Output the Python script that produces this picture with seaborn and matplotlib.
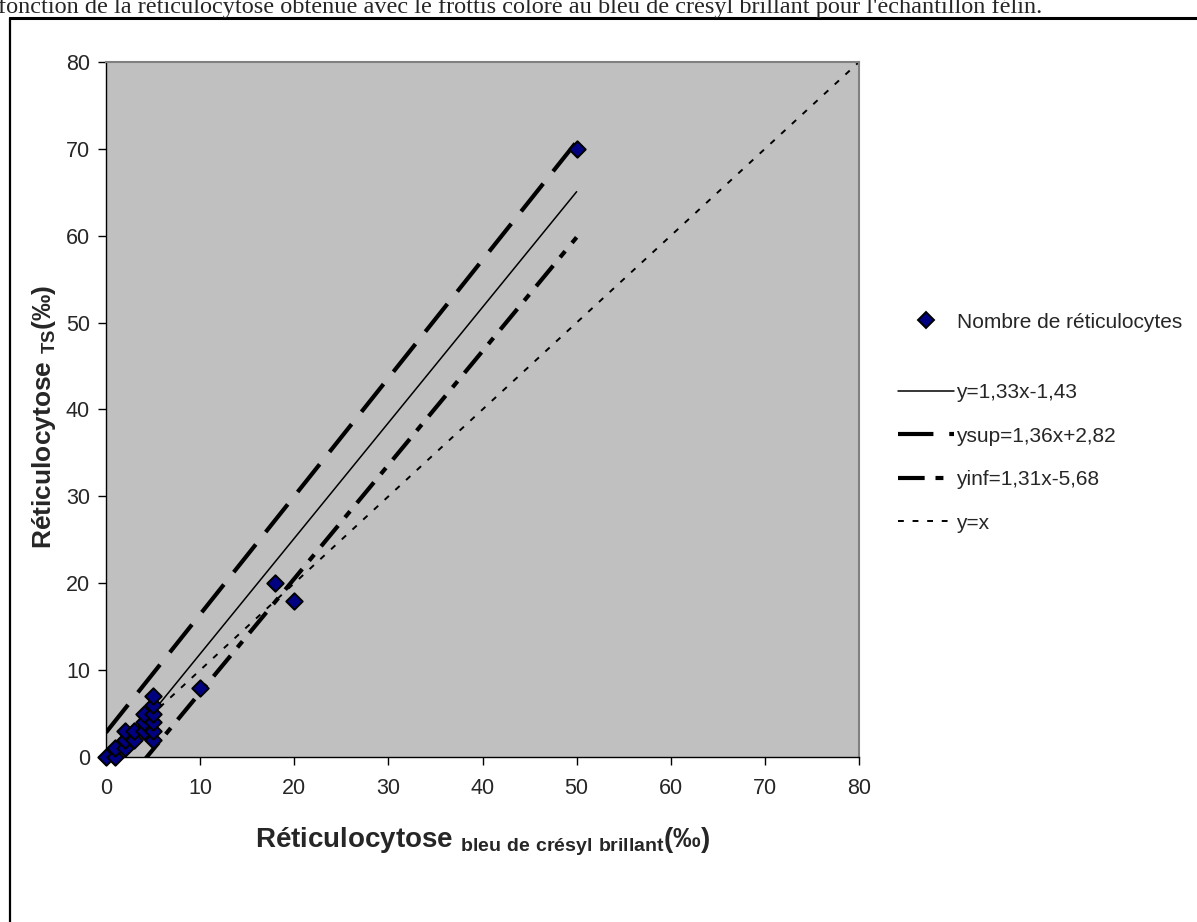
import matplotlib
matplotlib.use("Agg")
import matplotlib.pyplot as plt
from matplotlib.lines import Line2D
import numpy as np
import pandas as pd
import seaborn as sns

# Reticulocyte counts (per mille): brilliant cresyl blue smear vs. TS method
x_bcb = [0, 1, 1, 2, 2, 2, 3, 3, 4, 4, 4, 5, 5, 5, 5, 5, 5, 10, 18, 20, 50]
y_ts = [0, 0, 1, 1, 2, 3, 2, 3, 3, 4, 5, 2, 3, 4, 5, 6, 7, 8, 20, 18, 70]

# Regression line and its confidence bounds (slope, intercept)
reg_slope, reg_intercept = 1.33, -1.43
sup_slope, sup_intercept = 1.36, 2.82
inf_slope, inf_intercept = 1.31, -5.68
fit_range = [0, 50]
identity_range = [0, 80]

labels = ["Nombre de réticulocytes", "y=1,33x-1,43", "ysup=1,36x+2,82",
          "yinf=1,31x-5,68", "y=x"]
ticks = [0, 10, 20, 30, 40, 50, 60, 70, 80]

sns.set_style("white")
plt.rcParams["font.family"] = ["Liberation Sans", "DejaVu Sans"]
plt.rcParams["mathtext.fontset"] = "custom"
plt.rcParams["mathtext.rm"] = "Liberation Sans"
plt.rcParams["mathtext.bf"] = "Liberation Sans:bold"

W, H = 1197, 922
fig = plt.figure(figsize=(W / 100, H / 100), dpi=100)
ax = fig.add_axes([106 / W, 1 - 757 / H, (859 - 106) / W, (757 - 62) / H])
ax.set_facecolor("#C0C0C0")

pts = pd.DataFrame({"bcb": x_bcb, "ts": y_ts})
xs = np.array(fit_range, dtype=float)
lines = pd.DataFrame({
    "x": xs,
    "reg": reg_slope * xs + reg_intercept,
    "sup": sup_slope * xs + sup_intercept,
    "inf": inf_slope * xs + inf_intercept,
})
ident = pd.DataFrame({"x": identity_range, "y": identity_range})

styles = {
    "reg": dict(lw=1.1, dashes=None),
    "sup": dict(lw=3.0, dashes=(8.5, 3.8)),
    "inf": dict(lw=3.0, dashes=(6.4, 2.6, 1.9, 2.6)),
}
for col, st in styles.items():
    sns.lineplot(data=lines, x="x", y=col, ax=ax, color="black",
                 lw=st["lw"], estimator=None)
    ln = ax.lines[-1]
    if st["dashes"]:
        ln.set_dashes(st["dashes"])
sns.lineplot(data=ident, x="x", y="y", ax=ax, color="black", lw=1.4,
             estimator=None)
ax.lines[-1].set_dashes((3.0, 4.5))

sns.scatterplot(data=pts, x="bcb", y="ts", ax=ax, marker="D", s=70,
                color="#000080", edgecolor="black", linewidth=1.4,
                clip_on=False, zorder=5)

ax.set_xlim(0, 80)
ax.set_ylim(0, 80)
ax.set_xticks(ticks)
ax.set_yticks(ticks)
ax.tick_params(axis="both", direction="out", length=6, width=1,
               color="black", labelsize=15.5, left=True, bottom=True)
ax.tick_params(axis="y", pad=5.5)
ax.tick_params(axis="x", pad=9)
for side in ("left", "bottom"):
    ax.spines[side].set_color("black")
    ax.spines[side].set_linewidth(1.0)
for side in ("top", "right"):
    ax.spines[side].set_color("#808080")
    ax.spines[side].set_linewidth(1.5)

ax.set_xlabel("Réticulocytose ${}_{\\mathbf{bleu\\ de\\ crésyl\\ brillant}}$(‰)",
              fontsize=20, fontweight="bold")
ax.set_ylabel("Réticulocytose ${}_{\\mathbf{TS}}$(‰)",
              fontsize=19, fontweight="bold")
ax.xaxis.set_label_coords(0.5, -0.098)
ax.yaxis.set_label_coords(-0.064, 0.489)

# Legend: marker entry on its own, then the four lines
marker_handle = Line2D([], [], ls="none", marker="D", markersize=8,
                       markerfacecolor="#000080", markeredgecolor="black",
                       markeredgewidth=1.4)
leg1 = fig.legend([marker_handle], [labels[0]], loc="center left",
                  bbox_to_anchor=(901 / W, 1 - 322 / H), frameon=False,
                  fontsize=15, handlelength=2.4, handletextpad=0.3,
                  borderpad=0, borderaxespad=0)
line_handles = []
for col in ("reg", "sup", "inf"):
    st = styles[col]
    h = Line2D([], [], color="black", lw=st["lw"])
    if st["dashes"]:
        h.set_dashes(st["dashes"])
    line_handles.append(h)
h = Line2D([], [], color="black", lw=1.4)
h.set_dashes((3.0, 4.5))
line_handles.append(h)
leg2 = fig.legend(line_handles, labels[1:], loc="upper left",
                  bbox_to_anchor=(898 / W, 1 - 383 / H), frameon=False,
                  fontsize=15, handlelength=2.7, handletextpad=0.1,
                  labelspacing=1.18, borderpad=0, borderaxespad=0)

# Page frame around the chart
fig.add_artist(Line2D([10 / W, 10 / W], [0, 1 - 18 / H], color="black",
                      lw=1.6, transform=fig.transFigure))
fig.add_artist(Line2D([10 / W, 1], [1 - 18 / H, 1 - 18 / H], color="black",
                      lw=2.2, transform=fig.transFigure))

fig.text(-0.002, 1 - 13 / H,
         "fonction de la réticulocytose obtenue avec le frottis coloré au bleu "
         "de crésyl brillant pour l'échantillon félin.",
         family="Liberation Serif", fontsize=17.5, va="baseline", ha="left")

fig.savefig("out.png", dpi=100)
